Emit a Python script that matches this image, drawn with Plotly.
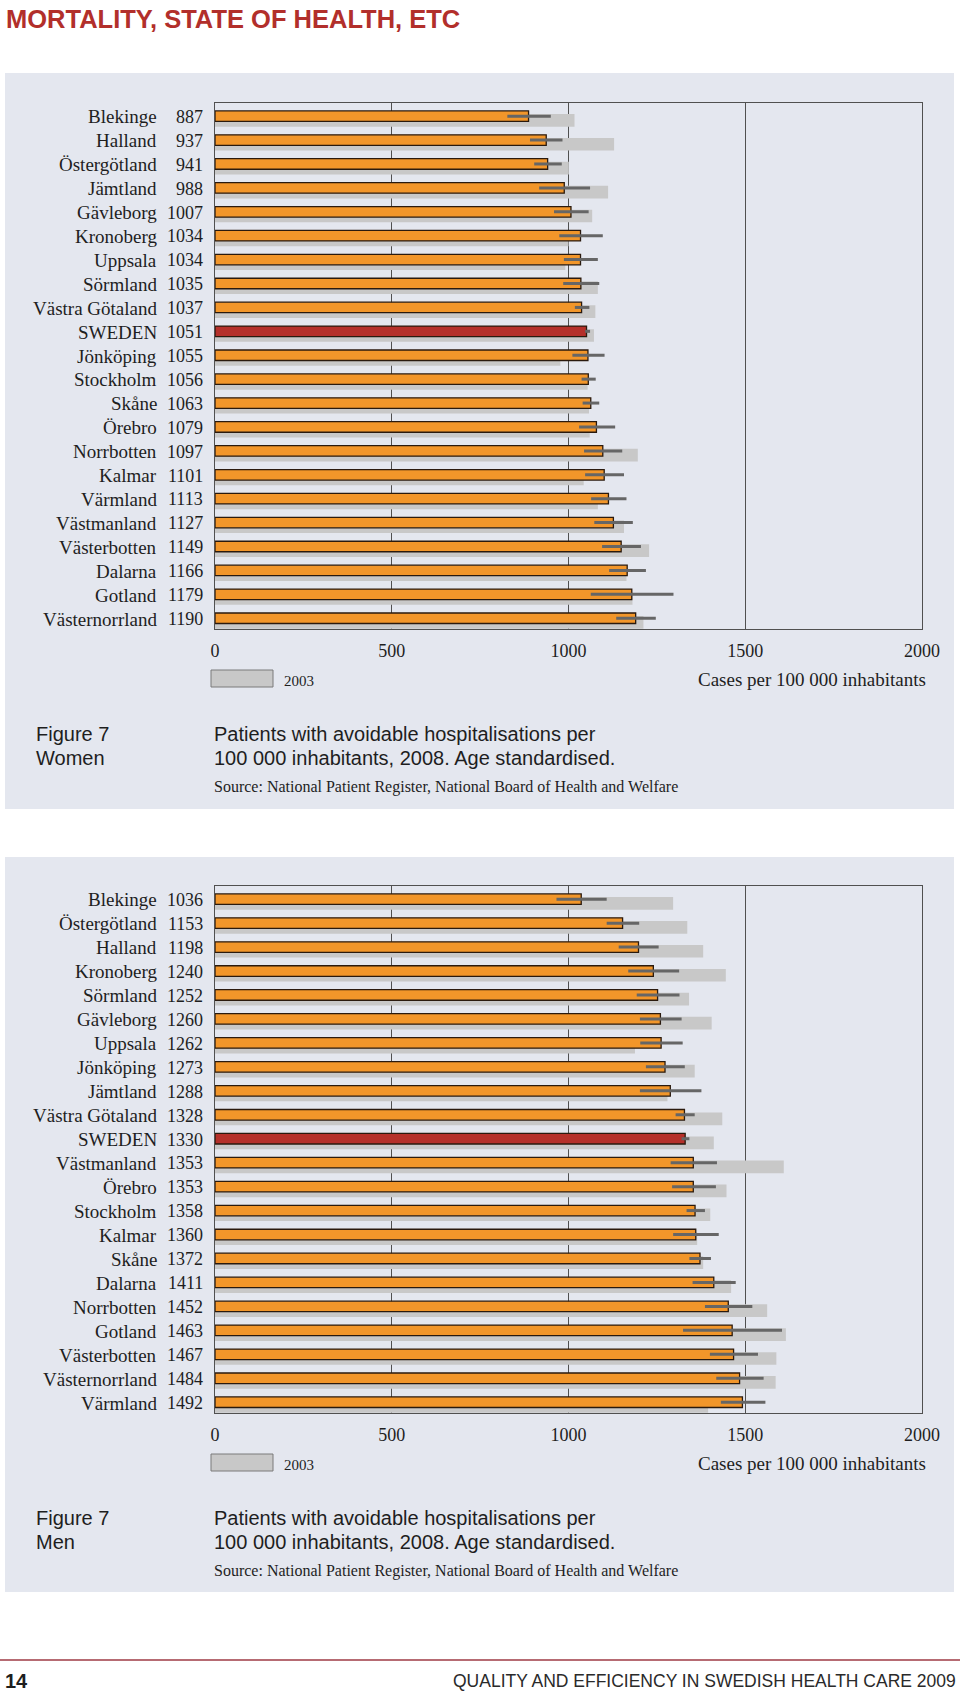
import plotly.graph_objects as go

# ---------------- data ----------------
women_regions = ["Blekinge", "Halland", "Östergötland", "Jämtland", "Gävleborg", "Kronoberg",
                 "Uppsala", "Sörmland", "Västra Götaland", "SWEDEN", "Jönköping", "Stockholm",
                 "Skåne", "Örebro", "Norrbotten", "Kalmar", "Värmland", "Västmanland",
                 "Västerbotten", "Dalarna", "Gotland", "Västernorrland"]
women_2008 = [887, 937, 941, 988, 1007, 1034, 1034, 1035, 1037, 1051, 1055, 1056,
              1063, 1079, 1097, 1101, 1113, 1127, 1149, 1166, 1179, 1190]
women_2003 = [1017, 1129, 1001, 1112, 1067, 1000, 991, 1083, 1076, 1072, 977, 1054,
              1058, 1060, 1196, 1043, 1083, 1157, 1228, 1164, 1181, 1212]
women_ci_low = [827, 891, 903, 917, 959, 974, 987, 985, 1018, 1047, 1011, 1037,
                1040, 1030, 1044, 1047, 1064, 1073, 1095, 1115, 1063, 1135]
women_ci_high = [950, 983, 981, 1061, 1057, 1097, 1083, 1087, 1059, 1061, 1102, 1077,
                 1087, 1132, 1152, 1157, 1164, 1182, 1205, 1219, 1297, 1247]

men_regions = ["Blekinge", "Östergötland", "Halland", "Kronoberg", "Sörmland", "Gävleborg",
               "Uppsala", "Jönköping", "Jämtland", "Västra Götaland", "SWEDEN", "Västmanland",
               "Örebro", "Stockholm", "Kalmar", "Skåne", "Dalarna", "Norrbotten", "Gotland",
               "Västerbotten", "Västernorrland", "Värmland"]
men_2008 = [1036, 1153, 1198, 1240, 1252, 1260, 1262, 1273, 1288, 1328, 1330, 1353,
            1353, 1358, 1360, 1372, 1411, 1452, 1463, 1467, 1484, 1492]
men_2003 = [1296, 1336, 1381, 1445, 1341, 1405, 1188, 1357, 1280, 1435, 1411, 1609,
            1447, 1401, 1364, 1381, 1460, 1562, 1615, 1588, 1586, 1395]
men_ci_low = [966, 1108, 1142, 1169, 1193, 1202, 1203, 1219, 1202, 1303, 1320, 1289,
              1293, 1334, 1296, 1342, 1351, 1386, 1324, 1400, 1418, 1431]
men_ci_high = [1108, 1200, 1255, 1313, 1314, 1320, 1323, 1329, 1376, 1357, 1342, 1420,
               1417, 1386, 1425, 1403, 1473, 1520, 1604, 1536, 1552, 1557]

x_ticks = [0, 500, 1000, 1500, 2000]
x_tick_labels = ["0", "500", "1000", "1500", "2000"]

page_title = "MORTALITY, STATE OF HEALTH, ETC"
fig_label = "Figure 7"
subtitles = ["Women", "Men"]
caption_1 = "Patients with avoidable hospitalisations per"
caption_2 = "100 000 inhabitants, 2008. Age standardised."
source_text = "Source: National Patient Register, National Board of Health and Welfare"
axis_title = "Cases per 100 000 inhabitants"
legend_label = "2003"
page_number = "14"
footer_text = "QUALITY AND EFFICIENCY IN SWEDISH HEALTH CARE 2009"

# ---------------- styling / layout ----------------
W, H = 960, 1692
ORANGE = "#F2962A"
RED = "#B5302A"
OUTLINE = "#2A1A0E"
GREY = "#C8C8C8"
ERR = "#666666"
PANEL_BG = "#E4E7EF"
TITLE_RED = "#B22F2B"
SERIF = "Liberation Serif, Times New Roman, serif"
SANS = "Liberation Sans, Arial, sans-serif"
TXT = "#1E1E1E"


def py(p):
    return 1 - p / H


def px(p):
    return p / W


PLOT_L, PLOT_R = 215, 922
panels = [
    dict(regions=women_regions, v08=women_2008, v03=women_2003, lo=women_ci_low,
         hi=women_ci_high, top=103, bottom=629, bg=(73, 809), sub=subtitles[0], ax=""),
    dict(regions=men_regions, v08=men_2008, v03=men_2003, lo=men_ci_low,
         hi=men_ci_high, top=886, bottom=1413, bg=(857, 1592), sub=subtitles[1], ax="2"),
]

fig = go.Figure()
shapes = []
annotations = []

annotations.append(dict(text=page_title, x=px(4), y=py(19), xref="paper", yref="paper",
                        xanchor="left", yanchor="middle", showarrow=False,
                        font=dict(family=SANS, size=25.5, color=TITLE_RED, weight="bold")))

for p in panels:
    xa, ya = "x" + p["ax"], "y" + p["ax"]
    n = len(p["regions"])
    shapes.append(dict(type="rect", xref="paper", yref="paper", x0=px(5), x1=px(954),
                       y0=py(p["bg"][1]), y1=py(p["bg"][0]), fillcolor=PANEL_BG,
                       line=dict(width=0), layer="below"))
    fig.add_trace(go.Bar(x=p["v03"], y=p["regions"], orientation="h",
                         marker=dict(color=GREY, line=dict(width=0)),
                         offset=-0.04, width=0.53, xaxis=xa, yaxis=ya,
                         showlegend=False, hoverinfo="x+y"))
    colors = [RED if r == "SWEDEN" else ORANGE for r in p["regions"]]
    fig.add_trace(go.Bar(x=p["v08"], y=p["regions"], orientation="h",
                         marker=dict(color=colors, line=dict(color=OUTLINE, width=1.3)),
                         offset=-0.17, width=0.44, xaxis=xa, yaxis=ya, showlegend=False,
                         error_x=dict(type="data", symmetric=False,
                                      array=[h - v for h, v in zip(p["hi"], p["v08"])],
                                      arrayminus=[v - l for l, v in zip(p["lo"], p["v08"])],
                                      color=ERR, thickness=3, width=0),
                         hoverinfo="x+y"))
    for i, (r, v) in enumerate(zip(p["regions"], p["v08"])):
        annotations.append(dict(text=r, x=0, y=i, xref=xa, yref=ya, xanchor="right",
                                yanchor="middle", xshift=-56, yshift=-2, showarrow=False,
                                font=dict(family=SERIF, size=19, color=TXT)))
        annotations.append(dict(text=str(v), x=0, y=i, xref=xa, yref=ya, xanchor="right",
                                yanchor="middle", xshift=-10, yshift=-2, showarrow=False,
                                font=dict(family=SERIF, size=18, color=TXT)))
    b = p["bottom"]
    shapes.append(dict(type="rect", xref="paper", yref="paper", x0=px(211), x1=px(273),
                       y0=py(b + 58), y1=py(b + 41), fillcolor=GREY,
                       line=dict(color="#7A7A7A", width=1)))
    annotations.append(dict(text=legend_label, x=px(282), y=py(b + 52), xref="paper",
                            yref="paper", xanchor="left", yanchor="middle", showarrow=False,
                            font=dict(family=SERIF, size=15, color=TXT)))
    annotations.append(dict(text=axis_title, x=px(928), y=py(b + 50), xref="paper",
                            yref="paper", xanchor="right", yanchor="middle", showarrow=False,
                            font=dict(family=SERIF, size=19, color=TXT)))
    annotations.append(dict(text=fig_label, x=px(34), y=py(b + 105), xref="paper",
                            yref="paper", xanchor="left", yanchor="middle", showarrow=False,
                            font=dict(family=SANS, size=20, color=TXT)))
    annotations.append(dict(text=p["sub"], x=px(34), y=py(b + 129), xref="paper",
                            yref="paper", xanchor="left", yanchor="middle", showarrow=False,
                            font=dict(family=SANS, size=20, color=TXT)))
    annotations.append(dict(text=caption_1, x=px(212), y=py(b + 105), xref="paper",
                            yref="paper", xanchor="left", yanchor="middle", showarrow=False,
                            font=dict(family=SANS, size=20, color=TXT)))
    annotations.append(dict(text=caption_2, x=px(212), y=py(b + 129), xref="paper",
                            yref="paper", xanchor="left", yanchor="middle", showarrow=False,
                            font=dict(family=SANS, size=20, color=TXT)))
    annotations.append(dict(text=source_text, x=px(212), y=py(b + 158), xref="paper",
                            yref="paper", xanchor="left", yanchor="middle", showarrow=False,
                            font=dict(family=SERIF, size=16, color=TXT)))

    axis_x = dict(domain=[px(PLOT_L), px(PLOT_R)], range=[0, 2000], tickvals=x_ticks,
                  ticktext=x_tick_labels, showgrid=True, gridcolor="#505050", gridwidth=1,
                  zeroline=False, showline=True, mirror=True, linecolor="#505050",
                  linewidth=1.2, ticks="", ticklabelstandoff=5, automargin=False,
                  tickfont=dict(family=SERIF, size=18, color=TXT), anchor=ya, fixedrange=True)
    axis_y = dict(domain=[py(b), py(p["top"])], type="category",
                  categoryorder="array", categoryarray=p["regions"],
                  range=[n - 0.5, -0.5], showgrid=False, zeroline=False, automargin=False,
                  showticklabels=False, ticks="", showline=True, mirror=True,
                  linecolor="#505050", linewidth=1.2, anchor=xa, fixedrange=True)
    fig.update_layout(**{"xaxis" + p["ax"]: axis_x, "yaxis" + p["ax"]: axis_y})

shapes.append(dict(type="line", xref="paper", yref="paper", x0=0, x1=1, y0=py(1660),
                   y1=py(1660), line=dict(color="#9E3A44", width=1.5)))
annotations.append(dict(text=page_number, x=px(3), y=py(1681), xref="paper", yref="paper",
                        xanchor="left", yanchor="middle", showarrow=False,
                        font=dict(family=SANS, size=20, color=TXT, weight="bold")))
annotations.append(dict(text=footer_text, x=px(958), y=py(1681), xref="paper", yref="paper",
                        xanchor="right", yanchor="middle", showarrow=False,
                        font=dict(family=SANS, size=17.5, color="#2A2A2A")))

fig.update_layout(width=W, height=H,
                  margin=dict(l=0, r=0, t=0, b=0, pad=0, autoexpand=False),
                  paper_bgcolor="white", plot_bgcolor="white", barmode="overlay",
                  showlegend=False, shapes=shapes, annotations=annotations,
                  hovermode=False)

fig.write_html("out.html", config={"displayModeBar": False, "responsive": False},
               post_script="document.body.style.margin='0px';"
                           "document.documentElement.style.overflow='hidden';"
                           "document.body.style.overflow='hidden';")
